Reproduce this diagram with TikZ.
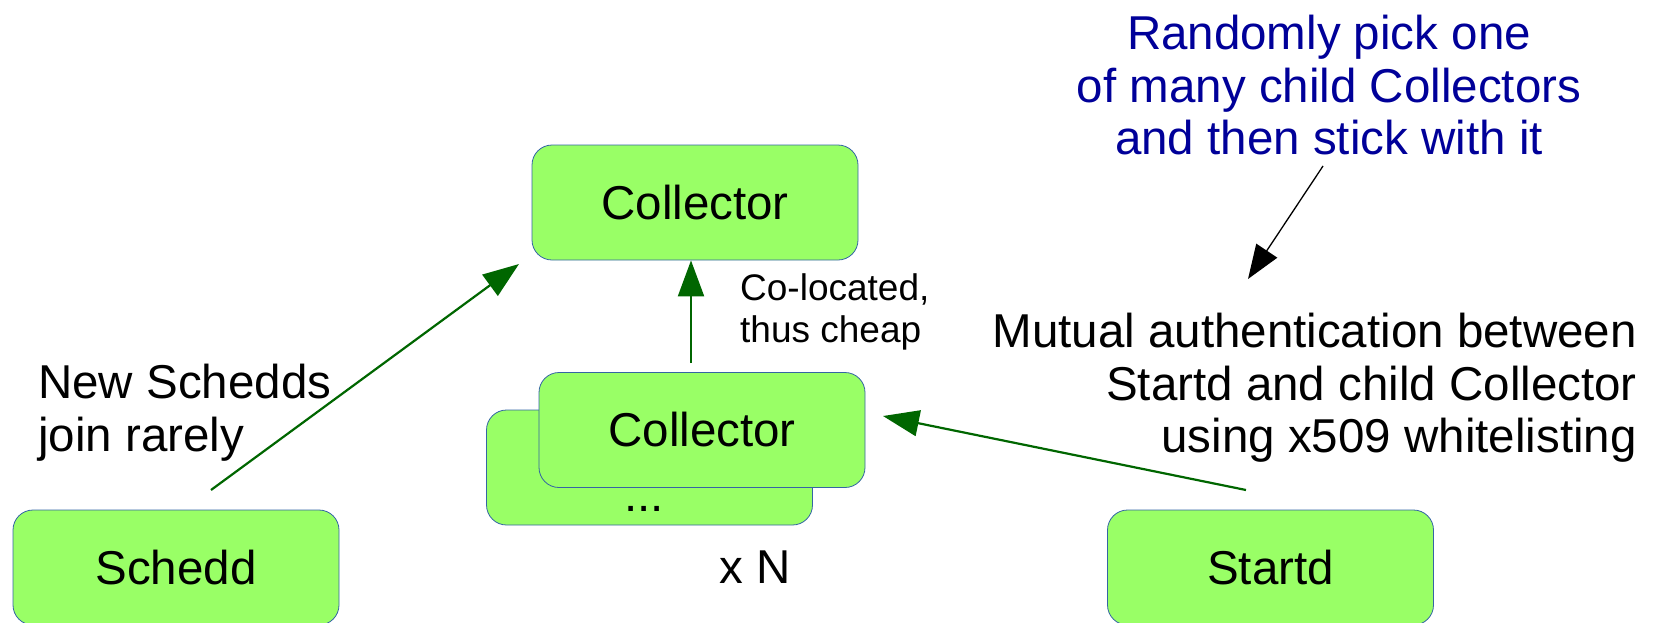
\documentclass[tikz,border=0pt]{standalone}
\usepackage{fontspec}
\setmainfont{Liberation Sans}
\usetikzlibrary{arrows.meta}
\definecolor{boxgreen}{HTML}{99FF66}
\definecolor{boxedge}{HTML}{3465A4}
\definecolor{arrowgreen}{HTML}{006600}
\definecolor{noteblue}{HTML}{000099}
\begin{document}
\begin{tikzpicture}[x=1pt,y=-1pt,
  box/.style={draw=boxedge, line width=0.8pt, fill=boxgreen, rounded corners=20pt,
    minimum width=326pt, minimum height=115pt, inner sep=0pt, font=\fontsize{47.5pt}{52.5pt}\selectfont},
  bignote/.style={inner sep=0pt, font=\fontsize{47.5pt}{52.5pt}\selectfont},
  smallnote/.style={inner sep=0pt, font=\fontsize{37pt}{42pt}\selectfont},
  garrow/.style={draw=arrowgreen, line width=2.2pt, -{Triangle[length=36pt,width=26pt]}},
  karrow/.style={draw=black, line width=1.3pt, -{Triangle[length=34pt,width=25pt]}}]
\useasboundingbox (0,0) rectangle (1661,622);
% boxes
\node[box] (top) at (695,202.5) {Collector};
\node[box] (back) at (649.5,467.5) {};
\node[box] (mid) at (702,430) {Collector};
\node[box] (schedd) at (176,567.5) {Schedd};
\node[box] (startd) at (1270.5,567.5) {Startd};
\node[bignote, anchor=base] (dots) at (644,511) {...};
\node[bignote, anchor=base] (xn) at (755,583) {x N};
% notes
\node[bignote, align=center, text=noteblue, anchor=north] (pick) at (1329,15) {Randomly pick one\\of many child Collectors\\and then stick with it};
\node[bignote, align=right, anchor=north east] (mutual) at (1637,313) {Mutual authentication between\\Startd and child Collector\\using x509 whitelisting};
\node[bignote, align=left, anchor=north west] (newsch) at (38,364) {New Schedds\\join rarely};
\node[smallnote, align=left, anchor=north west] (coloc) at (740,273.5) {Co-located,\\thus cheap};
% connectors
\coordinate (s1) at (211,490);
\coordinate (s2) at (519,264);
\draw[garrow] (s1) -- (s2);
\coordinate (m1) at (691,363);
\draw[garrow] (m1) -- (m1 |- top.south);
\coordinate (t1) at (1246,490);
\coordinate (t2) at (883,416);
\draw[garrow] (t1) -- (t2);
\coordinate (k1) at (1323,166);
\coordinate (k2) at (1248,279);
\draw[karrow] (k1) -- (k2);
\end{tikzpicture}
\end{document}
